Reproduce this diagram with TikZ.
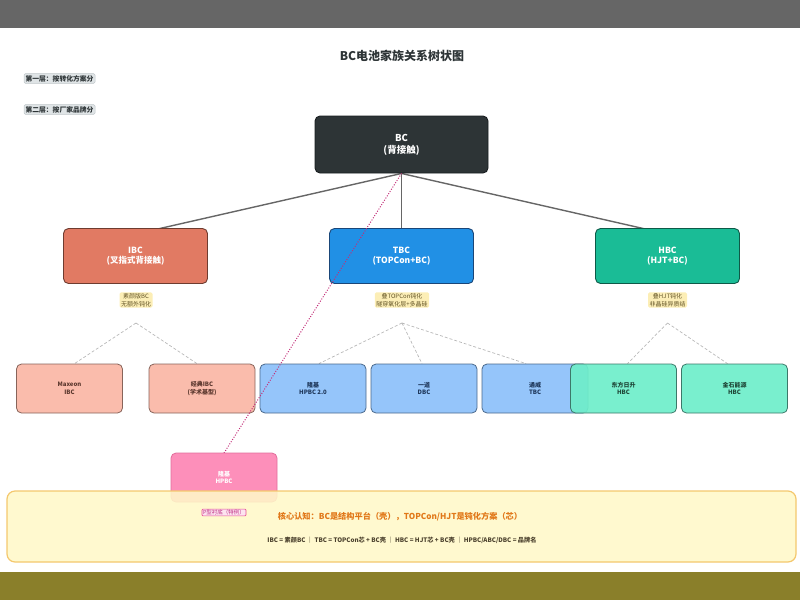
\documentclass[tikz,border=0pt]{standalone}
\usepackage{fontspec}
\setmainfont{Noto Sans CJK SC}
\usetikzlibrary{calc,backgrounds}
\definecolor{topband}{RGB}{102,102,102}
\definecolor{botband}{RGB}{138,127,42}
\definecolor{rootfill}{RGB}{45,52,54}
\definecolor{rootdraw}{RGB}{25,30,32}
\definecolor{ibcfill}{RGB}{225,122,99}
\definecolor{ibcdraw}{RGB}{110,60,48}
\definecolor{tbcfill}{RGB}{33,144,229}
\definecolor{tbcdraw}{RGB}{26,70,120}
\definecolor{hbcfill}{RGB}{26,188,150}
\definecolor{hbcdraw}{RGB}{14,90,72}
\definecolor{ibcleaf}{RGB}{250,182,165}
\definecolor{ibcleafdraw}{RGB}{135,100,90}
\definecolor{ibcleaftext}{RGB}{90,55,45}
\definecolor{tbcleaf}{RGB}{140,192,250}
\definecolor{tbcleafdraw}{RGB}{75,105,140}
\definecolor{tbcleaftext}{RGB}{30,55,90}
\definecolor{hbcleaf}{RGB}{110,238,202}
\definecolor{hbcleafdraw}{RGB}{60,120,105}
\definecolor{hbcleaftext}{RGB}{30,70,55}
\definecolor{pinkfill}{RGB}{253,143,186}
\definecolor{pinkdraw}{RGB}{225,110,155}
\definecolor{notefill}{RGB}{252,238,182}
\definecolor{notetext}{RGB}{100,85,40}
\definecolor{layerfill}{RGB}{223,228,230}
\definecolor{layerdraw}{RGB}{190,198,201}
\definecolor{layertext}{RGB}{45,52,54}
\definecolor{sumfill}{RGB}{255,248,200}
\definecolor{sumdraw}{RGB}{244,200,110}
\definecolor{sumorange}{RGB}{225,120,25}
\definecolor{sumtext}{RGB}{75,65,45}
\definecolor{badgefill}{RGB}{253,228,240}
\definecolor{badgedraw}{RGB}{230,80,150}
\definecolor{badgetext}{RGB}{190,45,130}
\definecolor{dotline}{RGB}{195,45,120}
\begin{document}
\begin{tikzpicture}[x=1pt,y=-1pt,
  box/.style={draw, rounded corners=5pt, line width=0.9pt, align=center, inner sep=0pt},
  rootbox/.style={box, fill=rootfill, draw=rootdraw, text=white, minimum width=173pt, minimum height=57pt, font=\fontsize{9.5}{12}\selectfont\bfseries},
  midbox/.style={box, minimum width=144pt, minimum height=55pt, text=white, font=\fontsize{8.5}{10.5}\selectfont\bfseries},
  leafbox/.style={box, minimum width=106pt, minimum height=49pt, line width=0.8pt, fill opacity=0.92, text opacity=1, font=\fontsize{6}{7.5}\selectfont\bfseries},
  ibcleafbox/.style={leafbox, fill=ibcleaf, draw=ibcleafdraw, text=ibcleaftext},
  tbcleafbox/.style={leafbox, fill=tbcleaf, draw=tbcleafdraw, text=tbcleaftext},
  hbcleafbox/.style={leafbox, fill=hbcleaf, draw=hbcleafdraw, text=hbcleaftext},
  notebox/.style={fill=notefill, rounded corners=1.5pt, inner xsep=1.5pt, inner ysep=1.2pt, align=center, text=notetext, font=\fontsize{6}{7.5}\selectfont},
  layerbox/.style={fill=layerfill, draw=layerdraw, line width=0.5pt, rounded corners=1.5pt, inner xsep=1.5pt, inner ysep=1.6pt, text=layertext, font=\fontsize{6.8}{7.5}\selectfont\bfseries},
  treeline/.style={draw=black!60, line width=1.4pt},
  leafline/.style={draw=black!28, line width=0.7pt, dash pattern=on 3pt off 2pt},
  specialline/.style={draw=dotline, line width=1pt, dash pattern=on 1pt off 1.6pt}
]
\useasboundingbox (0,0) rectangle (800,600);
\fill[topband] (0,0) rectangle (800,28);
\fill[botband] (0,572) rectangle (800,600);

\node[font=\fontsize{12}{14}\selectfont\bfseries, text=rootfill] (title) at (402,56) {BC电池家族关系树状图};
\node[layerbox] (layer1) at (59.5,78.5) {第一层：按转化方案分};
\node[layerbox] (layer2) at (59.5,109.5) {第二层：按厂家品牌分};

\node[rootbox] (root) at (401.5,144.5) {BC\\(背接触)};

\node[midbox, fill=ibcfill, draw=ibcdraw] (ibc) at (135.5,256) {IBC\\(叉指式背接触)};
\node[midbox, fill=tbcfill, draw=tbcdraw] (tbc) at (401.5,256) {TBC\\(TOPCon+BC)};
\node[midbox, fill=hbcfill, draw=hbcdraw] (hbc) at (667.5,256) {HBC\\(HJT+BC)};

\node[notebox] (ibcnote) at (136,300) {素颜版BC\\无额外钝化};
\node[notebox] (tbcnote) at (402,300) {叠TOPCon钝化\\隧穿氧化层+多晶硅};
\node[notebox] (hbcnote) at (667.5,300) {叠HJT钝化\\非晶硅异质结};

\coordinate (ibcfork) at (136,323);
\coordinate (tbcfork) at (402,323);
\coordinate (hbcfork) at (667.5,323);

\node[ibcleafbox] (maxeon) at (69.5,388.5) {Maxeon\\IBC};
\node[ibcleafbox] (classic) at (202,388.5) {经典IBC\\(学术基型)};
\node[tbcleafbox] (longi2) at (313,388.5) {隆基\\HPBC 2.0};
\node[tbcleafbox] (yidao) at (424,388.5) {一道\\DBC};
\node[tbcleafbox] (tongwei) at (535,388.5) {通威\\TBC};
\node[hbcleafbox] (dfrs) at (623.5,388.5) {东方日升\\HBC};
\node[hbcleafbox] (jinshi) at (734.5,388.5) {金石能源\\HBC};

\begin{scope}[on background layer]
  \draw[treeline] (root.south) -- ($(ibc.north)+(0,6)$);
  \draw[treeline] (root.south) -- (tbc.north);
  \draw[treeline] (root.south) -- ($(hbc.north)+(0,6)$);
  \draw[leafline] (ibcfork) -- ([xshift=5pt]maxeon.north);
  \draw[leafline] (ibcfork) -- ([xshift=-5pt]classic.north);
  \draw[leafline] (tbcfork) -- ([xshift=6pt]longi2.north);
  \draw[leafline] (tbcfork) -- ([xshift=-2pt]yidao.north);
  \draw[leafline] (tbcfork) -- ([xshift=-9pt]tongwei.north);
  \draw[leafline] (hbcfork) -- ([xshift=4pt]dfrs.north);
  \draw[leafline] (hbcfork) -- ([xshift=-7pt]jinshi.north);
\end{scope}

\draw[specialline] (root.south) -- (224,453);

\node[box, fill=pinkfill, draw=pinkdraw, line width=0.8pt, text=white, minimum width=106pt, minimum height=49pt, font=\fontsize{6}{7.5}\selectfont\bfseries] (longi) at (224,477.5) {隆基\\HPBC};

\node[draw=sumdraw, fill=sumfill, fill opacity=0.88, line width=1.2pt, rounded corners=8pt, minimum width=789pt, minimum height=71pt, inner sep=0pt] (summary) at (401.5,526.5) {};
\node[font=\fontsize{8.2}{10}\selectfont\bfseries, text=sumorange] (core) at (400,517) {核心认知：BC是结构平台（壳），TOPCon/HJT是钝化方案（芯）};
\node[font=\fontsize{6.2}{7.5}\selectfont\bfseries, text=sumtext] (legend) at (402,540) {IBC = 素颜BC ｜ TBC = TOPCon芯 + BC壳 ｜ HBC = HJT芯 + BC壳 ｜ HPBC/ABC/DBC = 品牌名};
\node[fill=badgefill, draw=badgedraw, line width=0.6pt, rounded corners=1pt, inner xsep=1pt, inner ysep=0.8pt, text=badgetext, font=\fontsize{5.5}{6.5}\selectfont] (badge) at (224,512.5) {P型衬底（特例）};
\end{tikzpicture}
\end{document}
